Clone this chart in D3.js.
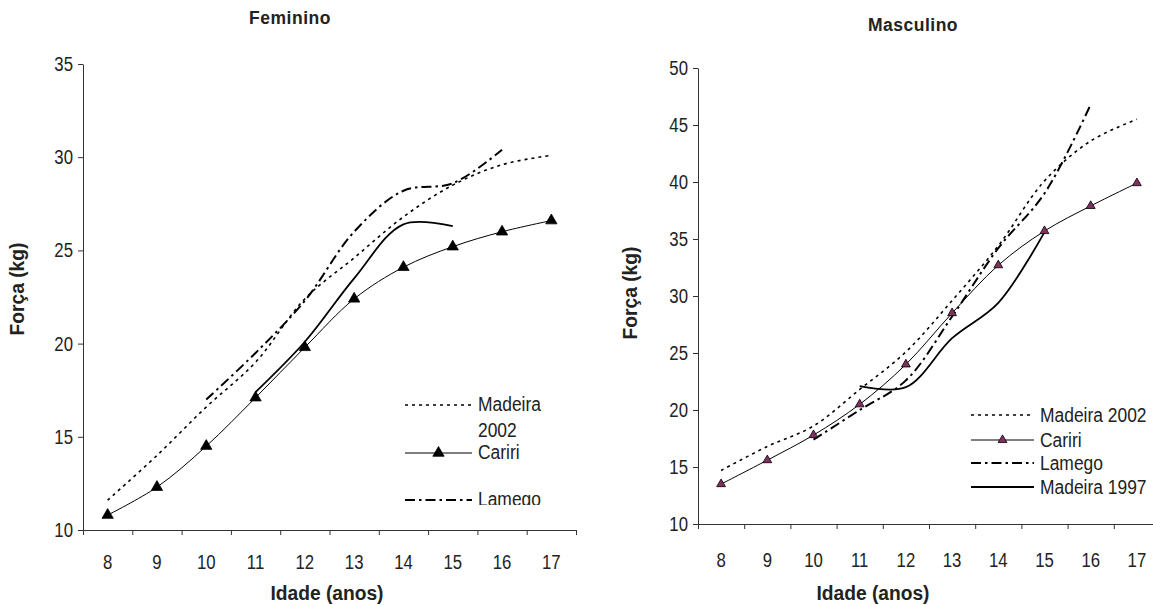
<html>
<head>
    <script src="https://d3js.org/d3.v7.min.js"></script>
    <style>
        body { margin: 0; background: white; }
        text { font-family: "Liberation Sans", Arial, sans-serif; fill: #222; }
    </style>
</head>
<body>
    <svg id="chart" width="1153" height="605"></svg>

    <script>
    // ages on the x axis (both panels)
    const ages = [8, 9, 10, 11, 12, 13, 14, 15, 16, 17];

    // Feminino (kg), null = no value at that age
    const femMadeira2002 = [11.6, 14.0, 16.6, 19.0, 22.4, 24.6, 26.8, 28.5, 29.6, 30.1];
    const femCariri      = [10.8, 12.3, 14.5, 17.1, 19.8, 22.4, 24.1, 25.2, 26.0, 26.6];
    const femLamego      = [null, null, 17.0, 19.5, 22.3, 26.0, 28.2, 28.6, 30.4, null];
    const femMadeira1997 = [null, null, null, 17.4, 20.1, 23.5, 26.4, 26.3, null, null];

    // Masculino (kg)
    const mascMadeira2002 = [14.7, 16.8, 18.6, 21.8, 25.1, 29.6, 34.4, 40.1, 43.6, 45.5];
    const mascCariri      = [13.5, 15.6, 17.8, 20.5, 24.0, 28.5, 32.7, 35.7, 37.9, 39.9];
    const mascLamego      = [null, null, 17.4, 20.0, 22.6, 28.2, 34.2, 39.0, 46.8, null];
    const mascMadeira1997 = [null, null, null, 22.1, 22.0, 26.3, 29.4, 35.6, null, null];

    const femTicks = [10, 15, 20, 25, 30, 35];
    const mascTicks = [10, 15, 20, 25, 30, 35, 40, 45, 50];

    const svg = d3.select("#chart");
    svg.append("rect").attr("width", 1153).attr("height", 605).attr("fill", "white");

    // line looks
    const styles = {
        madeira2002: { width: 1.6, dash: "3,4" },
        cariri:      { width: 1, dash: null },
        lamego:      { width: 2, dash: "10,4,2.5,4" },
        madeira1997: { width: 1.8, dash: null }
    };

    // the original's type is a bit narrow, so squeeze text sideways
    function label(g, x, y, s, o) {
        o = o || {};
        const sx = o.sx || 0.86;
        return g.append("text")
            .attr("transform", `translate(${x},${y})${o.rotate ? " rotate(-90)" : ""} scale(${sx},1)`)
            .attr("text-anchor", o.anchor || "start")
            .style("font-size", (o.size || 20) + "px")
            .style("font-weight", o.bold ? "bold" : "normal")
            .style("letter-spacing", o.spacing || "0px")
            .text(s);
    }

    function drawPanel(p) {
        const x = d3.scaleLinear().domain([7.5, 17.5]).range([p.left, p.right]);
        const y = d3.scaleLinear().domain(p.yDomain).range([p.bottom, p.top]);
        const g = svg.append("g");

        // y axis
        g.append("g")
            .attr("transform", `translate(${p.left},0)`)
            .call(d3.axisLeft(y).tickValues(p.yTicks).tickSize(5).tickSizeOuter(0).tickFormat(""));
        p.yTicks.forEach(v => label(g, p.left - 10, y(v) + 7, v, { anchor: "end", size: 19.5 }));

        // x axis: marks between ages, labels at age centers
        g.append("g")
            .attr("transform", `translate(0,${p.bottom})`)
            .call(d3.axisBottom(x).tickValues(d3.range(7.5, 18, 1)).tickSize(5).tickSizeOuter(0).tickFormat(""));
        ages.forEach(a => label(g, x(a), p.bottom + p.labelDy, a, { anchor: "middle", size: 19.5 }));
        g.selectAll(".domain, .tick line").attr("stroke", "#333");

        // titles
        label(g, p.titleX, p.titleY, p.title, { anchor: "middle", size: 17.5, bold: true, sx: 1, spacing: "0.5px" });
        label(g, p.xTitleX, 600, "Idade (anos)", { anchor: "middle", size: 20, bold: true, sx: 0.96 });
        label(g, p.yTitleX, p.yTitleY, "Força (kg)", { anchor: "middle", size: 20, bold: true, sx: 0.96, rotate: true });

        const line = d3.line()
            .x(d => x(d[0]))
            .y(d => y(d[1]))
            .curve(d3.curveCatmullRom.alpha(0.5));

        p.series.forEach(s => {
            const pts = ages.map((a, i) => [a, s.values[i]]).filter(d => d[1] != null);
            const st = styles[s.key];
            g.append("path")
                .attr("d", line(pts))
                .attr("fill", "none")
                .attr("stroke", "black")
                .attr("stroke-width", st.width)
                .attr("stroke-dasharray", st.dash);
            if (s.key === "cariri") {
                g.selectAll(null).data(pts).join("path")
                    .attr("transform", d => `translate(${x(d[0])},${y(d[1])})`)
                    .attr("d", d3.symbol(d3.symbolTriangle, p.markerSize)())
                    .attr("fill", p.markerFill)
                    .attr("stroke", "black")
                    .attr("stroke-width", 0.8);
            }
        });

        // legend
        const lg = g.append("g");
        if (p.legendClip) {
            const c = p.legendClip;
            svg.append("clipPath").attr("id", "clip" + p.id)
                .append("rect").attr("x", c[0]).attr("y", c[1]).attr("width", c[2]).attr("height", c[3]);
            lg.attr("clip-path", `url(#clip${p.id})`);
        }
        p.legend.forEach(item => {
            const st = styles[item.key];
            lg.append("line")
                .attr("x1", p.legX1).attr("x2", p.legX2)
                .attr("y1", item.y).attr("y2", item.y)
                .attr("stroke", "black")
                .attr("stroke-width", st.width)
                .attr("stroke-dasharray", st.dash);
            if (item.key === "cariri") {
                lg.append("path")
                    .attr("transform", `translate(${(p.legX1 + p.legX2) / 2},${item.y})`)
                    .attr("d", d3.symbol(d3.symbolTriangle, p.markerSize)())
                    .attr("fill", p.markerFill)
                    .attr("stroke", "black")
                    .attr("stroke-width", 0.8);
            }
            item.label.forEach((t, k) => {
                label(lg, p.legX2 + 6, item.y + p.legDy + k * 26, t, { size: 21, sx: 0.83 });
            });
        });
    }

    drawPanel({
        id: "fem", title: "Feminino",
        left: 83, right: 576, top: 64, bottom: 530,
        yDomain: [10, 35], yTicks: femTicks, labelDy: 39,
        titleX: 290, titleY: 24, xTitleX: 327, yTitleX: 24, yTitleY: 289,
        markerSize: 55, markerFill: "black",
        series: [
            { key: "madeira2002", values: femMadeira2002 },
            { key: "lamego", values: femLamego },
            { key: "madeira1997", values: femMadeira1997 },
            { key: "cariri", values: femCariri }
        ],
        legX1: 405, legX2: 472, legDy: 6,
        legendClip: [395, 385, 175, 120],
        legend: [
            { key: "madeira2002", y: 405, label: ["Madeira", "2002"] },
            { key: "cariri", y: 453, label: ["Cariri"] },
            { key: "lamego", y: 500, label: ["Lamego"] }
        ]
    });

    drawPanel({
        id: "masc", title: "Masculino",
        left: 698, right: 1160, top: 68, bottom: 524,
        yDomain: [10, 50], yTicks: mascTicks, labelDy: 43,
        titleX: 913, titleY: 31, xTitleX: 873, yTitleX: 637, yTitleY: 293,
        markerSize: 34, markerFill: "#80305f",
        series: [
            { key: "madeira2002", values: mascMadeira2002 },
            { key: "lamego", values: mascLamego },
            { key: "madeira1997", values: mascMadeira1997 },
            { key: "cariri", values: mascCariri }
        ],
        legX1: 971, legX2: 1034, legDy: 7,
        legend: [
            { key: "madeira2002", y: 415, label: ["Madeira 2002"] },
            { key: "cariri", y: 440, label: ["Cariri"] },
            { key: "lamego", y: 463, label: ["Lamego"] },
            { key: "madeira1997", y: 487, label: ["Madeira 1997"] }
        ]
    });
    </script>
</body>
</html>
